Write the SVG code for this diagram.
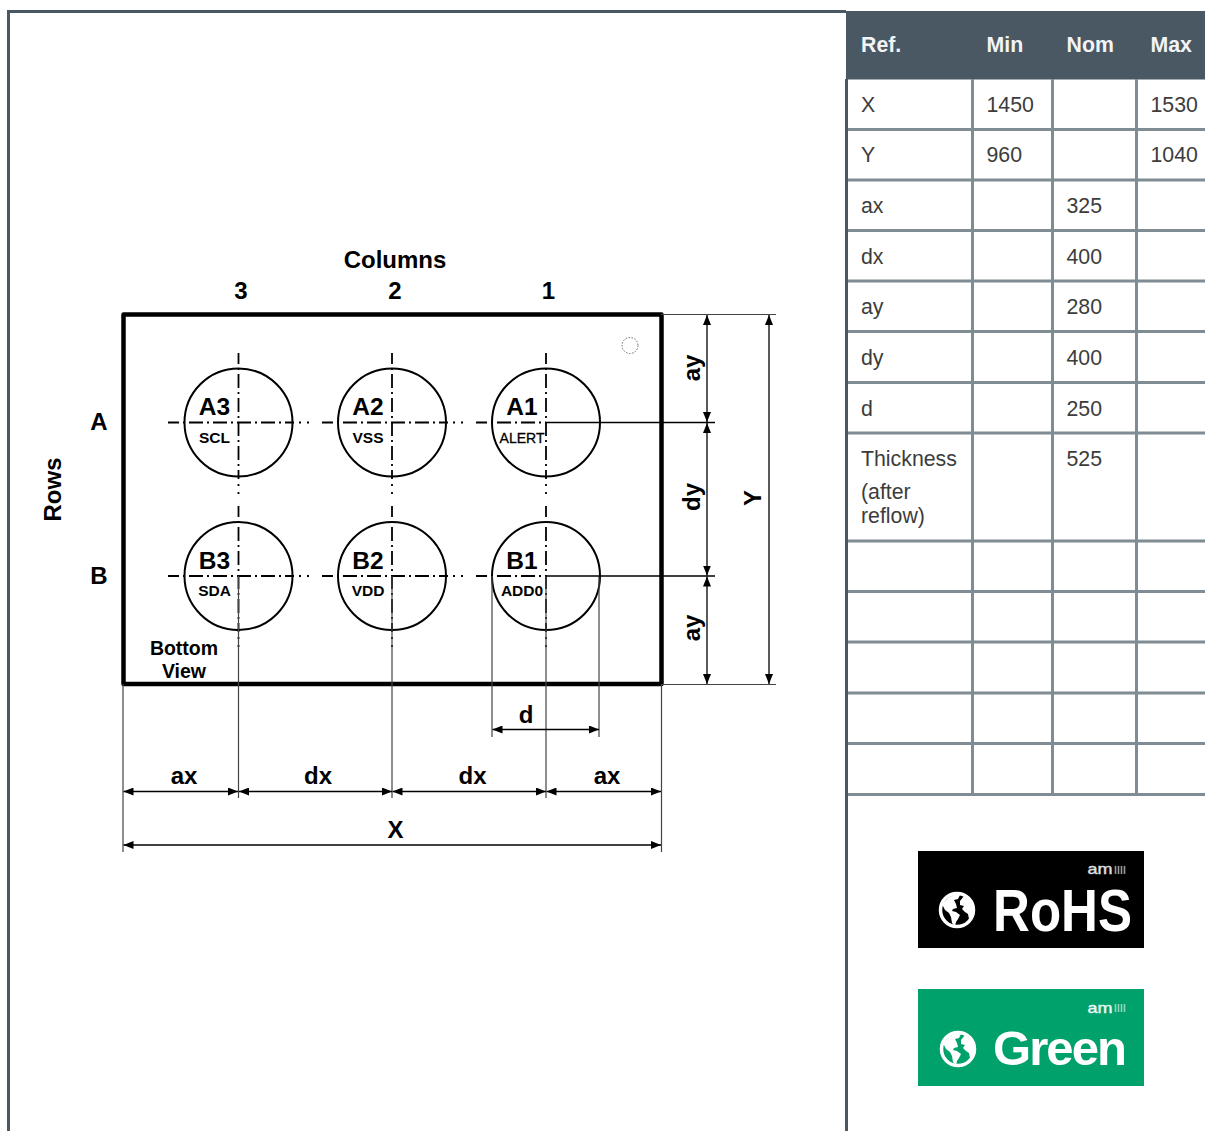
<svg xmlns="http://www.w3.org/2000/svg" width="1205" height="1131" viewBox="0 0 1205 1131">
<defs>
<style>
text{font-family:"Liberation Sans",Arial,sans-serif}
.b{font-weight:700;fill:#000;text-anchor:middle}
.l{font-size:24px}
.s{font-size:15.5px}
.p{font-size:24.5px}
.v{font-size:19.5px}
.t{font-size:21.3px;fill:#3c3c3c}
.h{font-size:21.3px;font-weight:700;fill:#f2f4f5}
.g{stroke:#7f8c94;stroke-width:3;fill:none}
.pin{fill:none;stroke:#000;stroke-width:2}
.cl{stroke:#000;stroke-width:1.800;stroke-dasharray:14 4 2 4;stroke-dashoffset:3;fill:none}
.dot{stroke:#000;stroke-width:1.800;stroke-dasharray:2 6;fill:none}
.ext{stroke:#444;stroke-width:1.200;fill:none}
.ref{stroke:#000;stroke-width:1.300;fill:none}
.dim{stroke:#000;stroke-width:1.300;fill:none;marker-start:url(#a);marker-end:url(#a)}
</style>
<marker id="a" viewBox="0 0 10 8" refX="10" refY="4" markerWidth="10" markerHeight="8" markerUnits="userSpaceOnUse" orient="auto-start-reverse"><path d="M0 0L10 4L0 8Z" fill="#000"/></marker>
<symbol id="globe" viewBox="-20 -20 40 40" overflow="visible">
<circle r="16.500" fill="none" stroke="#fff" stroke-width="3.500"/>
<path fill="#fff" d="M-15-6L-9-12L-2-16L3-15L1-11L-3-10L-1-6L0-2L-4-1L-5 1L-1 2L3 5L1 9L-1 12L-2 16L-5 13L-6 7L-8 3L-12 0ZM3-9L7-14L13-9L16-3L16 5L12 9L11 4L8 2L5-1L7-4L3-5Z"/>
</symbol>
</defs>

<g id="frame">
<path d="M8.500 1131V11.500H846" fill="none" stroke="#4a5864" stroke-width="3"/>
<path d="M846.500 79V1131" fill="none" stroke="#4a5864" stroke-width="3"/>
</g>

<g id="table">
<rect x="846" y="11" width="359" height="68.500" fill="#4a5864"/>
<path class="g" d="M972.500 79V794M1052.500 79V794M1136.500 79V794"/>
<path class="g" d="M848 129.500H1205M848 180H1205M848 230.500H1205M848 281H1205M848 331.500H1205M848 382.500H1205M848 433H1205M848 541H1205M848 591.500H1205M848 642H1205M848 693H1205M848 743.500H1205M848 794.500H1205"/>
<text class="h" x="861" y="52">Ref.</text><text class="h" x="986.500" y="52">Min</text><text class="h" x="1066.500" y="52">Nom</text><text class="h" x="1150.500" y="52">Max</text>
<text class="t" x="861" y="112">X</text><text class="t" x="986.500" y="112">1450</text><text class="t" x="1150.500" y="112">1530</text>
<text class="t" x="861" y="162">Y</text><text class="t" x="986.500" y="162">960</text><text class="t" x="1150.500" y="162">1040</text>
<text class="t" x="861" y="213">ax</text><text class="t" x="1066.500" y="213">325</text>
<text class="t" x="861" y="264">dx</text><text class="t" x="1066.500" y="264">400</text>
<text class="t" x="861" y="314">ay</text><text class="t" x="1066.500" y="314">280</text>
<text class="t" x="861" y="365">dy</text><text class="t" x="1066.500" y="365">400</text>
<text class="t" x="861" y="416">d</text><text class="t" x="1066.500" y="416">250</text>
<text class="t" x="861" y="466">Thickness</text><text class="t" x="1066.500" y="466">525</text>
<text class="t" x="861" y="499">(after</text><text class="t" x="861" y="523">reflow)</text>
</g>

<g id="package">
<rect x="123.500" y="314.500" width="538" height="369.500" fill="none" stroke="#000" stroke-width="4.500" stroke-linejoin="round"/>
<circle cx="630" cy="345.500" r="8" fill="none" stroke="#666" stroke-width="1" stroke-dasharray="1.500 1.500"/>
</g>

<g id="centerlines">
<path class="cl" d="M168 422.500H294M322 422.500H448M476 422.500H546M168 576H294M322 576H448M476 576H546"/>
<path class="dot" d="M299 422.500H310M453 422.500H464M299 576H310M453 576H464"/>
<path class="cl" d="M238.500 353V479M392 353V479M546 353V479M238.500 506V632M392 506V632M546 506V632"/>
<path class="dot" d="M238.500 484V495M392 484V495M546 484V495M238.500 637V648M392 637V648M546 637V648"/>
</g>

<g id="pin-A3"><circle class="pin" cx="238.500" cy="422.500" r="54"/><text class="b p" x="214.500" y="415">A3</text><text class="b s" x="214.500" y="442.500">SCL</text></g>
<g id="pin-A2"><circle class="pin" cx="392" cy="422.500" r="54"/><text class="b p" x="368" y="415">A2</text><text class="b s" x="368" y="442.500">VSS</text></g>
<g id="pin-A1"><circle class="pin" cx="546" cy="422.500" r="54"/><text class="b p" x="522" y="415">A1</text><text x="522" y="442.500" text-anchor="middle" font-size="14" fill="#000" stroke="#000" stroke-width=".3">ALERT</text></g>
<g id="pin-B3"><circle class="pin" cx="238.500" cy="576" r="54"/><text class="b p" x="214.500" y="568.500">B3</text><text class="b s" x="214.500" y="596">SDA</text></g>
<g id="pin-B2"><circle class="pin" cx="392" cy="576" r="54"/><text class="b p" x="368" y="568.500">B2</text><text class="b s" x="368" y="596">VDD</text></g>
<g id="pin-B1"><circle class="pin" cx="546" cy="576" r="54"/><text class="b p" x="522" y="568.500">B1</text><text class="b s" x="522" y="596">ADD0</text></g>

<g id="connectors">
<path class="ext" d="M123 684V852M661.500 684V852M238.500 576V798M392 576V798M546 576V798M492 576V737M599 576V737"/>
<path class="ext" d="M661 314.500H776M661 684.500H776"/>
<path class="ref" d="M546 422.500H715M546 576H715"/>
<path class="dim" d="M123.500 791.500H238"/>
<path class="dim" d="M239 791.500H392"/>
<path class="dim" d="M392.500 791.500H546"/>
<path class="dim" d="M546.500 791.500H661"/>
<path class="dim" d="M123.500 845H661"/>
<path class="dim" d="M492.500 729.500H599"/>
<path class="dim" d="M707 315V422"/>
<path class="dim" d="M707 423V575.500"/>
<path class="dim" d="M707 576.500V684"/>
<path class="dim" d="M769 315V684"/>
</g>

<g id="labels">
<text class="b l" x="395" y="268">Columns</text>
<text class="b l" x="241" y="299">3</text><text class="b l" x="395" y="299">2</text><text class="b l" x="548.500" y="299">1</text>
<text class="b l" x="99" y="430">A</text><text class="b l" x="99" y="584">B</text>
<text class="b l" transform="translate(61 489.500) rotate(-90)">Rows</text>
<text class="b v" x="184" y="655">Bottom</text><text class="b v" x="184" y="678">View</text>
<text class="b l" x="526" y="723">d</text>
<text class="b l" x="184" y="784">ax</text><text class="b l" x="318" y="784">dx</text><text class="b l" x="472.500" y="784">dx</text><text class="b l" x="607" y="784">ax</text>
<text class="b l" x="395.500" y="838">X</text>
<text class="b l" transform="translate(700 368) rotate(-90)">ay</text>
<text class="b l" transform="translate(700 497) rotate(-90)">dy</text>
<text class="b l" transform="translate(700 628) rotate(-90)">ay</text>
<text class="b l" transform="translate(761 498) rotate(-90)">Y</text>
</g>

<g id="badge-rohs">
<rect x="918" y="851" width="226" height="97" fill="#000"/>
<text x="1087.500" y="873.500" font-size="15" fill="#e0e0e0" stroke="#e0e0e0" stroke-width=".4" textLength="25" lengthAdjust="spacingAndGlyphs">am</text>
<path d="M1115.500 866v8M1118.500 866v8M1121.500 866v8M1124.500 866v8" stroke="#9a9a9a" stroke-width="1.600"/>
<use href="#globe" x="937" y="890" width="40" height="40"/>
<text x="993" y="930.500" font-size="59" font-weight="700" fill="#fff" textLength="139" lengthAdjust="spacingAndGlyphs">RoHS</text>
</g>

<g id="badge-green">
<rect x="918" y="989" width="226" height="97" fill="#00a16b"/>
<text x="1087.500" y="1012.500" font-size="15" fill="#eef8f4" stroke="#eef8f4" stroke-width=".4" textLength="25" lengthAdjust="spacingAndGlyphs">am</text>
<path d="M1115.500 1004v8M1118.500 1004v8M1121.500 1004v8M1124.500 1004v8" stroke="#8fd5bb" stroke-width="1.600"/>
<use href="#globe" x="938" y="1029" width="40" height="40"/>
<text x="993" y="1065" font-size="49" font-weight="700" fill="#fff" textLength="134" lengthAdjust="spacing">Green</text>
</g>
</svg>
